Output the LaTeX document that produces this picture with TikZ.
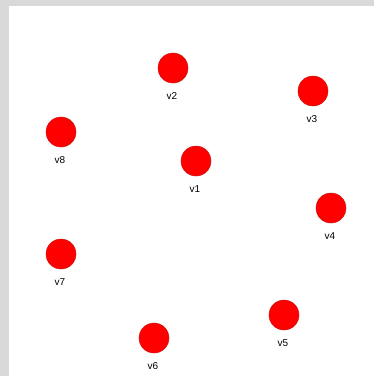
\documentclass[tikz,border=0pt]{standalone}
\usepackage{fontspec}
\setmainfont{Liberation Sans}
\usetikzlibrary{positioning}
\definecolor{VertexRed}{rgb}{1, 0, 0}
\definecolor{VertexEdge}{rgb}{0.8, 0.1, 0.1}
\definecolor{FrameGray}{rgb}{0.85, 0.85, 0.85}

\begin{document}
\begin{tikzpicture}[
    x=1pt, y=-1pt,
    font=\fontsize{10}{11}\selectfont,
    vertex/.style={circle, draw=VertexEdge, line width=0.5pt, fill=VertexRed,
        minimum size=30pt, inner sep=0pt},
    vname/.style={below=8pt of #1, inner sep=1pt},
]

% marco
\fill[FrameGray] (0,0) rectangle (374,376);
\fill[white] (9,6) rectangle (374,376);
\useasboundingbox (0,0) rectangle (374,376);

% vertices
\node[vertex] (v1) at (196,161) {};
\node[vertex] (v2) at (173,68) {};
\node[vertex] (v3) at (313,91) {};
\node[vertex] (v4) at (331,208) {};
\node[vertex] (v5) at (284,315) {};
\node[vertex] (v6) at (154,338) {};
\node[vertex] (v7) at (61,254) {};
\node[vertex] (v8) at (61,132) {};

% nombres
\foreach \v in {v1,v2,v3,v4,v5,v6,v7,v8}
    \node[vname=\v, xshift=-1pt] (\v-name) {\v};

\end{tikzpicture}
\end{document}
